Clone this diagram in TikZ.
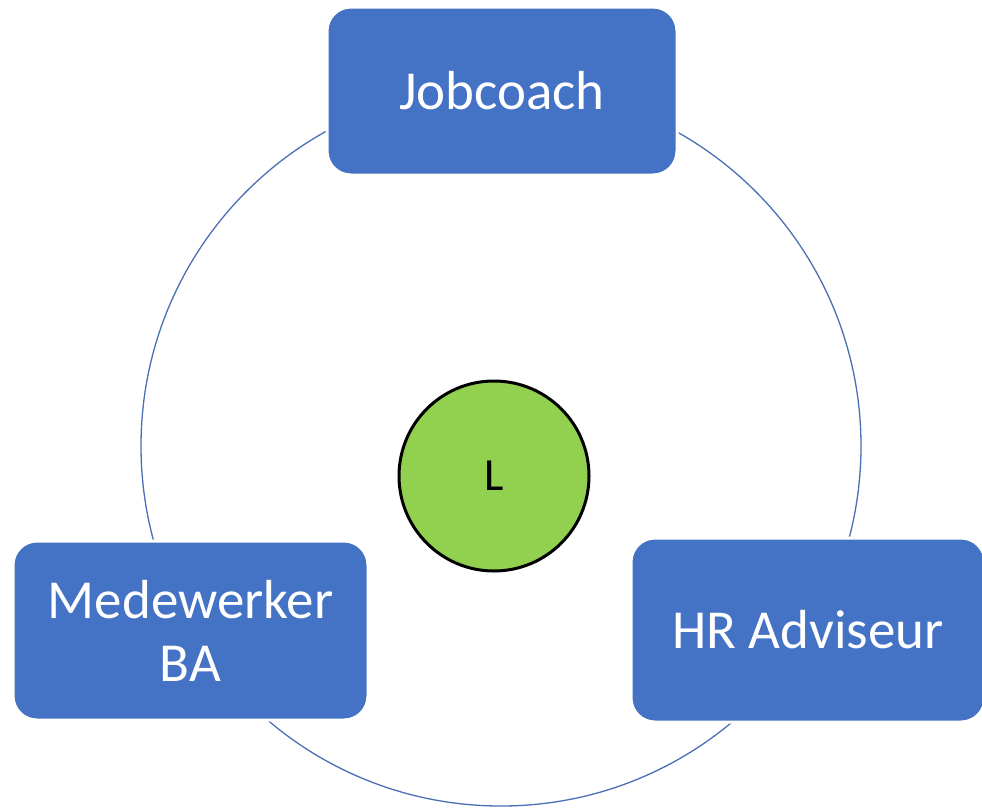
\documentclass[tikz,border=0pt]{standalone}
\usepackage{fontspec}
\setmainfont{Carlito}
\definecolor{boxblue}{HTML}{4472C4}
\definecolor{ringblue}{HTML}{4A6FB5}
\definecolor{leafgreen}{HTML}{92D050}
\tikzset{
  rolebox/.style={rectangle, rounded corners=24pt, fill=boxblue, draw=white, line width=3pt,
    text=white, inner sep=0pt, align=center, font=\fontsize{55}{63}\selectfont},
  ring/.style={circle, draw=ringblue, line width=1.3pt, inner sep=0pt, minimum size=720pt},
  core/.style={circle, fill=leafgreen, draw=black, line width=3pt, inner sep=0pt, minimum size=190pt,
    font=\fontsize{46}{52}\selectfont}
}
\begin{document}
\begin{tikzpicture}[x=1pt,y=-1pt]
\useasboundingbox (0,0) rectangle (982,809);
\node[ring] (ring) at (501,446) {};
\node[core] (center) at (494,476) {L};
\node[rolebox, minimum width=350pt, minimum height=168pt] (jobcoach) at (502,91) {Jobcoach};
\node[rolebox, minimum width=355pt, minimum height=179pt] (medewerker) at (190.5,630.5) {Medewerker\\BA};
\node[rolebox, minimum width=354pt, minimum height=184pt] (hr) at (808,630) {HR Adviseur};
\end{tikzpicture}
\end{document}
